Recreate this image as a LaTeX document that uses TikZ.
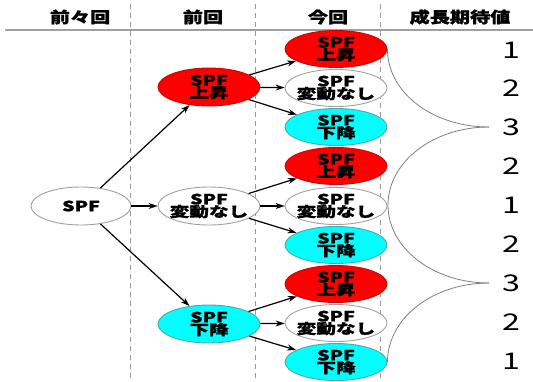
\documentclass[tikz,border=0pt]{standalone}
\usepackage{fontspec}
\newfontfamily\jpn[FakeStretch=1.4, BoldFeatures={FakeBold=1.2}]{Noto Sans CJK JP}
\newfontfamily\jph[FakeStretch=1.3, BoldFeatures={FakeBold=1.2}]{Noto Sans CJK JP}
\newfontfamily\jpd[FakeStretch=1.4]{Noto Sans CJK JP}
\usetikzlibrary{shapes.geometric,arrows.meta}
\definecolor{spfred}{HTML}{FF0000}
\definecolor{spfcyan}{HTML}{00FFFF}
\definecolor{redline}{HTML}{D00000}
\definecolor{cyanline}{HTML}{4FA8A8}
\definecolor{grayline}{HTML}{A0A0A0}
\definecolor{dashgray}{HTML}{999999}
\begin{document}
\begin{tikzpicture}[x=1pt,y=-1pt,
  lab/.style={inner sep=0pt, align=center, font=\jpn\bfseries\fontsize{14}{12.5}\selectfont},
  ell/.style={ellipse, draw, line width=0.9pt, inner sep=0pt, minimum width=102pt, minimum height=37pt, label={[lab]center:#1}},
  up/.style={ell={SPF\\上昇}, fill=spfred, draw=redline},
  flat/.style={ell={SPF\\変動なし}, fill=white, draw=grayline},
  down/.style={ell={SPF\\下降}, fill=spfcyan, draw=cyanline},
  arr/.style={-{Stealth[length=9pt,width=6pt]}, line width=1.2pt, black},
  sep/.style={dashgray, line width=0.9pt, dash pattern=on 5pt off 4pt},
  hdr/.style={font=\jph\bfseries\fontsize{15.5}{15.5}\selectfont, inner sep=0pt},
  val/.style={font=\jpd\fontsize{23}{23}\selectfont, inner sep=0pt},
  brace/.style={grayline!80!black, line width=0.8pt}]
\useasboundingbox[fill=white] (0,0) rectangle (533,381);
% header
\draw[grayline, line width=1.2pt] (5,30) -- (533,30);
\draw[sep] (130,4) -- (130,381);
\draw[sep] (255,4) -- (255,381);
\draw[sep] (380,4) -- (380,381);
\node[hdr] (h1) at (80,17) {前々回};
\node[hdr] (h2) at (203,17) {前回};
\node[hdr] (h3) at (328,17) {今回};
\node[hdr] (h4) at (460,17) {成長期待値};
% nodes
\node[ellipse, draw=grayline, fill=white, line width=0.9pt, minimum width=100pt, minimum height=38pt, inner sep=0pt, font=\jpn\bfseries\fontsize{14}{14}\selectfont] (root) at (81,206) {SPF};
\node[up, minimum height=38pt] (m1) at (209,87) {};
\node[flat, minimum height=38pt] (m2) at (209,206) {};
\node[down, minimum height=38pt] (m3) at (209,324) {};
\node[up] (r1) at (336,49) {};
\node[flat] (r2) at (336,88) {};
\node[down] (r3) at (336,127) {};
\node[up] (r4) at (336,166) {};
\node[flat] (r5) at (336,206) {};
\node[down] (r6) at (336,245) {};
\node[up] (r7) at (336,284) {};
\node[flat] (r8) at (336,323) {};
\node[down] (r9) at (336,362) {};
% arrows
\draw[arr] (root) -- (m1);
\draw[arr] (root) -- (m2);
\draw[arr] (root) -- (m3);
\foreach \m/\a/\b/\c in {m1/r1/r2/r3, m2/r4/r5/r6, m3/r7/r8/r9}{
  \draw[arr] (\m) -- (\a);
  \draw[arr] (\m) -- (\b);
  \draw[arr] (\m) -- (\c);
}
% values
\foreach \i/\v/\y in {1/1/50,2/2/88,3/3/127,4/2/166,5/1/205,6/2/244,7/3/283,8/2/322,9/1/361}{
  \node[val] (v\i) at (511,\y) {\v};
}
% brace curves
\coordinate (p1) at (489,127);
\coordinate (p2) at (489,283);
\draw[brace] (r1.east) .. controls +(0,44) and +(-56,0) .. (p1);
\draw[brace] (p1) .. controls +(-56,0) and +(0,-43) .. (388,205) .. controls +(0,43) and +(-56,0) .. (p2);
\draw[brace] (p2) .. controls +(-56,0) and +(0,-44) .. (r9.east);
\end{tikzpicture}
\end{document}
